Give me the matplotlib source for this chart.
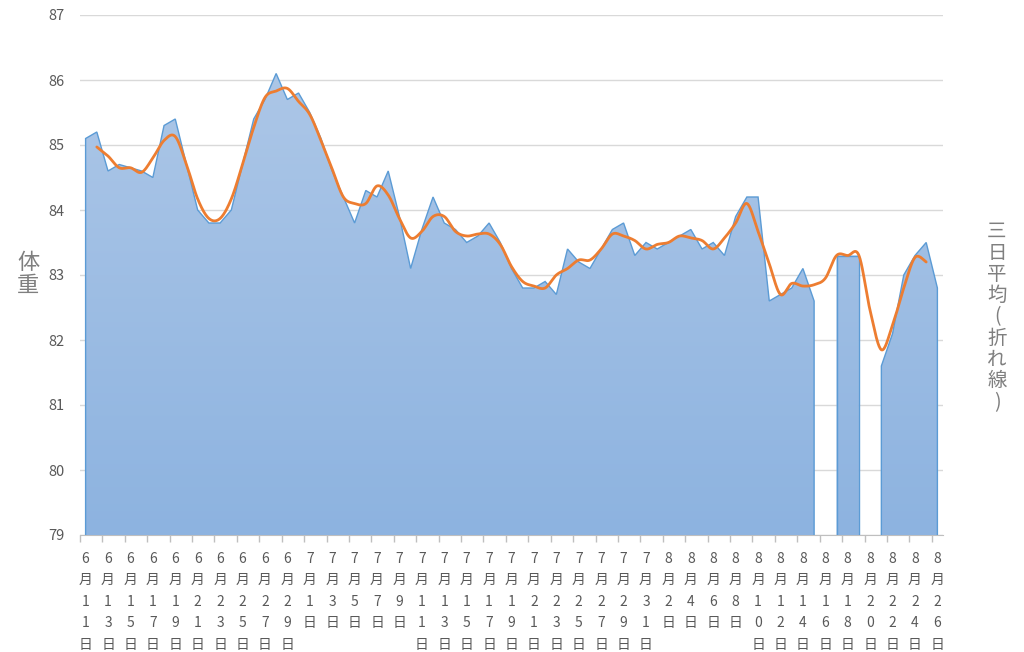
import numpy as np
import pandas as pd
import matplotlib
matplotlib.use("Agg")
import matplotlib.pyplot as plt
from matplotlib.path import Path
from matplotlib.patches import PathPatch
from matplotlib.colors import LinearSegmentedColormap

plt.rcParams["font.family"] = ["Noto Sans CJK JP", "DejaVu Sans"]

# daily dates 6/11 .. 8/26
dates = pd.date_range("2017-06-11", "2017-08-26", freq="D")
date_labels = [f"{d.month}月{d.day}日" for d in dates]

# body weight (kg), None = not measured
weight = [
    85.1, 85.2, 84.6, 84.7, 84.65, 84.6, 84.5, 85.3, 85.4, 84.7,
    84.0, 83.8, 83.8, 84.0, 84.7, 85.4, 85.7, 86.1, 85.7, 85.8,
    85.5, 85.1, 84.6, 84.2, 83.8, 84.3, 84.2, 84.6, 83.9, 83.1,
    83.7, 84.2, 83.8, 83.7, 83.5, 83.6, 83.8, 83.5, 83.1, 82.8,
    82.8, 82.9, 82.7, 83.4, 83.2, 83.1, 83.4, 83.7, 83.8, 83.3,
    83.5, 83.4, 83.5, 83.6, 83.7, 83.4, 83.5, 83.3, 83.9, 84.2,
    84.2, 82.6, 82.7, 82.8, 83.1, 82.6, None, 83.3, 83.3, 83.3,
    None, 81.6, 82.1, 83.0, 83.3, 83.5, 82.8,
]

# three-day average, 6/12 .. 8/25
avg3 = [
    84.97, 84.83, 84.65, 84.65, 84.58, 84.80, 85.07, 85.13, 84.70, 84.17,
    83.87, 83.87, 84.17, 84.70, 85.27, 85.73, 85.83, 85.87, 85.67, 85.47,
    85.07, 84.63, 84.20, 84.10, 84.10, 84.37, 84.23, 83.87, 83.57, 83.67,
    83.90, 83.90, 83.67, 83.60, 83.63, 83.63, 83.47, 83.13, 82.90, 82.83,
    82.80, 83.00, 83.10, 83.23, 83.23, 83.40, 83.63, 83.60, 83.53, 83.40,
    83.47, 83.50, 83.60, 83.57, 83.53, 83.40, 83.57, 83.80, 84.10, 83.67,
    83.17, 82.70, 82.87, 82.83, 82.85, 82.95, 83.30, 83.30, 83.30, 82.45,
    81.85, 82.23, 82.80, 83.27, 83.20,
]

YMIN, YMAX = 79, 87


def smooth(x, y, n=20):
    # Catmull-Rom style curve through the points (like Excel "smoothed line")
    x = np.asarray(x, float)
    y = np.asarray(y, float)
    px = np.concatenate([[x[0]], x, [x[-1]]])
    py = np.concatenate([[y[0]], y, [y[-1]]])
    xs, ys = [], []
    t = np.linspace(0, 1, n, endpoint=False)
    for i in range(1, len(px) - 2):
        p0 = np.array([px[i], py[i]])
        p3 = np.array([px[i + 1], py[i + 1]])
        c1 = p0 + (np.array([px[i + 1], py[i + 1]]) - np.array([px[i - 1], py[i - 1]])) / 6
        c2 = p3 - (np.array([px[i + 2], py[i + 2]]) - np.array([px[i], py[i]])) / 6
        b = ((1 - t) ** 3)[:, None] * p0 + (3 * (1 - t) ** 2 * t)[:, None] * c1 \
            + (3 * (1 - t) * t ** 2)[:, None] * c2 + (t ** 3)[:, None] * p3
        xs.append(b[:, 0])
        ys.append(b[:, 1])
    xs.append([x[-1]])
    ys.append([y[-1]])
    return np.concatenate(xs), np.concatenate(ys)


fig = plt.figure(figsize=(10.24, 6.52), dpi=100)
ax = fig.add_axes([80 / 1024, 1 - 535 / 652, 863 / 1024, 520 / 652])

days = np.arange(len(weight))
w = np.array([np.nan if v is None else v for v in weight])

# split into contiguous segments
segments = []
cur = []
for i, v in enumerate(w):
    if np.isnan(v):
        if cur:
            segments.append(cur)
        cur = []
    else:
        cur.append(i)
if cur:
    segments.append(cur)

verts, codes = [], []
for seg in segments:
    xs = days[seg]
    ys = w[seg]
    pts = [(xs[0], YMIN)] + list(zip(xs, ys)) + [(xs[-1], YMIN)]
    verts += pts + [(xs[0], YMIN)]
    codes += [Path.MOVETO] + [Path.LINETO] * (len(pts) - 1) + [Path.CLOSEPOLY]
    ax.plot([p[0] for p in pts], [p[1] for p in pts], color="#5b9bd5",
            lw=1.0, zorder=4, solid_joinstyle="miter")

area_path = Path(verts, codes)
patch = PathPatch(area_path, facecolor="none", edgecolor="none")
ax.add_patch(patch)
cmap = LinearSegmentedColormap.from_list("grad", ["#8db3e0", "#b0c9e8"])
grad = np.linspace(0, 1, 256)[:, None]
img = ax.imshow(grad, cmap=cmap, origin="lower", aspect="auto",
                extent=[-0.5, len(weight) - 0.5, YMIN, YMAX], zorder=3)
img.set_clip_path(patch)

# three-day average line
ax_x = days[1:1 + len(avg3)]
sx, sy = smooth(ax_x, avg3)
ax.plot(sx, sy, color="#ed7d31", lw=2.0, zorder=5, solid_capstyle="round")

ax.set_xlim(-0.5, len(weight) - 0.5)
ax.set_ylim(YMIN, YMAX)

ax.set_yticks(range(YMIN, YMAX + 1))
ax.yaxis.grid(True, color="#d9d9d9", lw=1.0, zorder=0)
ax.set_axisbelow(True)
ax.tick_params(axis="y", length=0, pad=11, labelsize=10.5, labelcolor="#595959")

ax.set_xticks(days[::2])
ax.set_xticklabels(["\n".join(s) for s in date_labels[::2]],
                   fontsize=10, color="#595959", linespacing=1.68)
ax.set_xticks(np.arange(-0.5, len(weight), 2), minor=True)
ax.tick_params(axis="x", which="major", length=0, pad=12)
ax.tick_params(axis="x", which="minor", length=5, color="#bfbfbf", width=1)

for s in ["top", "right", "left"]:
    ax.spines[s].set_visible(False)
ax.spines["bottom"].set_color("#bfbfbf")

fig.text(28 / 1024, 1 - 274 / 652, "体\n重", fontsize=16, color="#7f7f7f",
         ha="center", va="center", linespacing=0.98)
fig.text(997 / 1024, 1 - 317 / 652, "\n".join("三日平均(折れ線)"), fontsize=14,
         color="#7f7f7f", ha="center", va="center", linespacing=1.02)

fig.savefig("out.png", dpi=100)
